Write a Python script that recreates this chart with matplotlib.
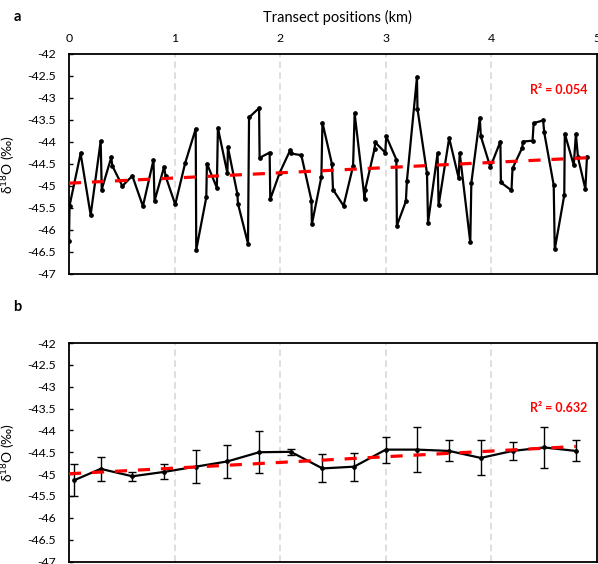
import numpy as np
import matplotlib
matplotlib.use("Agg")
import matplotlib.pyplot as plt

plt.rcParams['font.family'] = ['Lato', 'Open Sans', 'DejaVu Sans']
plt.rcParams['axes.unicode_minus'] = False

# ---------------- data ----------------
pos_a = [0.0, 0.005, 0.11, 0.205, 0.30, 0.31, 0.40, 0.41, 0.505, 0.60,
         0.70, 0.80, 0.81, 0.90, 0.915, 1.006, 1.10, 1.20, 1.205, 1.30,
         1.306, 1.40, 1.41, 1.50, 1.505, 1.595, 1.60, 1.695, 1.705, 1.80,
         1.805, 1.90, 1.906, 1.995, 2.094, 2.10, 2.20, 2.296, 2.30, 2.39,
         2.40, 2.49, 2.50, 2.60, 2.69, 2.705, 2.80, 2.805, 2.893, 2.90,
         2.995, 3.004, 3.10, 3.105, 3.19, 3.20, 3.295, 3.30, 3.39, 3.40,
         3.49, 3.50, 3.60, 3.69, 3.70, 3.80, 3.81, 3.89, 3.90, 3.99,
         4.085, 4.09, 4.19, 4.20, 4.29, 4.30, 4.39, 4.40, 4.49, 4.50,
         4.59, 4.60, 4.69, 4.695, 4.78, 4.80, 4.82, 4.89, 4.905]
d18o_a = [-46.25, -45.45, -44.26, -45.66, -43.98, -45.08, -44.35, -44.54, -45.00, -44.77,
          -45.46, -44.41, -45.34, -44.57, -44.78, -45.42, -44.48, -43.70, -46.45, -45.26,
          -44.49, -45.04, -43.68, -44.71, -44.12, -45.19, -45.40, -46.31, -43.44, -43.23,
          -44.36, -44.24, -45.30, -44.70, -44.19, -44.26, -44.30, -45.33, -45.87, -44.79,
          -43.56, -44.50, -45.08, -45.45, -44.55, -43.35, -45.30, -45.08, -44.16, -44.01,
          -44.24, -43.87, -44.40, -45.90, -45.35, -44.88, -42.53, -43.25, -44.71, -45.83,
          -44.26, -45.44, -43.91, -44.82, -44.25, -46.28, -44.93, -43.45, -43.87, -44.57,
          -43.99, -44.92, -45.10, -44.60, -44.14, -43.99, -43.97, -43.57, -43.51, -43.78,
          -44.98, -46.44, -45.21, -43.81, -44.53, -43.82, -44.35, -45.07, -44.33]

pos_b = [0.05, 0.30, 0.60, 0.90, 1.20, 1.50, 1.80, 2.10, 2.40, 2.70,
         3.00, 3.30, 3.60, 3.90, 4.20, 4.50, 4.80]
mean_b = [-45.14, -44.88, -45.05, -44.95, -44.83, -44.71, -44.50, -44.49, -44.87, -44.83,
          -44.44, -44.44, -44.47, -44.63, -44.47, -44.39, -44.47]
err_b = [0.37, 0.27, 0.10, 0.17, 0.38, 0.37, 0.48, 0.07, 0.32, 0.32,
         0.30, 0.52, 0.24, 0.40, 0.20, 0.47, 0.24]

x_ticks = [0, 1, 2, 3, 4, 5]
y_ticks = [-47, -46.5, -46, -45.5, -45, -44.5, -44, -43.5, -43, -42.5, -42]
r2_a = "R² = 0.054"
r2_b = "R² = 0.632"

# ---------------- figure ----------------
W, H = 598, 564
fig = plt.figure(figsize=(W / 100, H / 100), dpi=100)
ax_a = fig.add_axes([69 / W, 1 - 274 / H, 528 / W, 220 / H])
ax_b = fig.add_axes([69 / W, 1 - 561.5 / H, 528 / W, 218.5 / H])

ylab = r'δ$^{\mathregular{18}}$O (‰)'

for ax in (ax_a, ax_b):
    ax.set_xlim(0, 5)
    ax.set_ylim(-47, -42)
    ax.set_xticks(x_ticks)
    ax.set_yticks(y_ticks)
    ax.set_yticklabels(['%g' % v for v in y_ticks])
    ax.tick_params(axis='y', direction='in', length=3, width=1, pad=9.5,
                   labelsize=8.8, colors='black')
    ax.tick_params(axis='x', length=0, labelsize=8.8)
    ax.xaxis.grid(True, color='#D9D9D9', linestyle=(0, (4, 2.5)), linewidth=1.2)
    ax.set_axisbelow(True)
    for s in ax.spines.values():
        s.set_linewidth(1.3)
        s.set_color('black')
    ax.set_ylabel(ylab, fontsize=10)
    ax.yaxis.set_label_coords((17.5 - 69) / 528, 0.5)

ax_a.xaxis.tick_top()
ax_a.tick_params(axis='x', pad=7.5)
ax_b.tick_params(axis='x', labelbottom=False)

# panel a
ax_a.plot(pos_a, d18o_a, color='black', lw=1.6, marker='o', ms=2.4, zorder=3)
coef_a = np.polyfit(pos_a, d18o_a, 1)
xa = np.array([0, max(pos_a)])
ax_a.plot(xa, np.polyval(coef_a, xa), color='red', lw=2.3, dashes=(3.8, 3.4), zorder=4)
ax_a.text((587 - 69) / 528, (274 - 90) / 220, r2_a, transform=ax_a.transAxes,
          color='red', fontsize=9, fontweight='bold', ha='right', va='center')

# panel b
ax_b.errorbar(pos_b, mean_b, yerr=err_b, color='black', lw=1.6, marker='o', ms=2.4,
              ecolor='black', elinewidth=1.0, capsize=3.2, capthick=1.0, zorder=3)
coef_b = np.polyfit(pos_b, mean_b, 1)
xb = np.array([0, max(pos_b)])
ax_b.plot(xb, np.polyval(coef_b, xb), color='red', lw=2.3, dashes=(3.8, 3.4), zorder=4)
ax_b.text((587 - 69) / 528, (561.5 - 408) / 218.5, r2_b, transform=ax_b.transAxes,
          color='red', fontsize=9, fontweight='bold', ha='right', va='center')

fig.text(337.5 / W, 1 - 17 / H, 'Transect positions (km)', ha='center', va='center',
         fontsize=10.5)
fig.text(14 / W, 1 - 17 / H, 'a', fontweight='bold', fontsize=10.5, ha='left', va='center')
fig.text(13 / W, 1 - 307 / H, 'b', fontweight='bold', fontsize=10.5, ha='left', va='center')

fig.savefig('out.png', dpi=100)
